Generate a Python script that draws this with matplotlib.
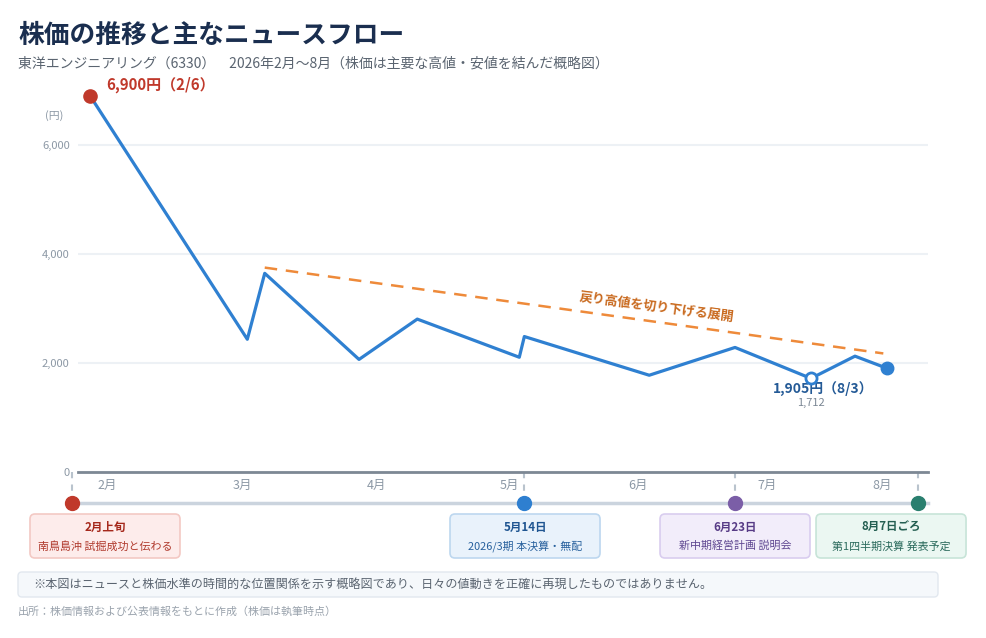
import matplotlib
matplotlib.use("Agg")
import matplotlib.pyplot as plt
from matplotlib import transforms
from matplotlib.patches import FancyBboxPatch

plt.rcParams['font.family'] = ['Noto Sans CJK JP', 'DejaVu Sans']

# 株価（概略図）: 横軸は月単位の位置（2.0 = 2月ラベルの位置）
price_x = [1.87, 3.053, 3.184, 3.893, 4.331, 5.098, 5.136, 6.075, 6.720, 7.291, 7.622, 7.860]
price_y = [6900, 2430, 3640, 2060, 2800, 2100, 2480, 1770, 2280, 1712, 2120, 1900]

trend_x = [3.184, 7.835]
trend_y = [3745, 2170]

month_pos = [2.0, 3.013, 4.028, 5.02, 5.99, 6.96, 7.825]
month_labels = ["2月", "3月", "4月", "5月", "6月", "7月", "8月"]

yticks = [0, 2000, 4000, 6000]
ytick_labels = ["0", "2,000", "4,000", "6,000"]

ev_x = [1.735, 5.133, 6.720, 8.096]
ev_box_x = [1.983, 5.141, 6.720, 7.893]
ev_title = ["2月上旬", "5月14日", "6月23日", "8月7日ごろ"]
ev_text = ["南鳥島沖 試掘成功と伝わる", "2026/3期 本決算・無配", "新中期経営計画 説明会", "第1四半期決算 発表予定"]
ev_dot = ["#c0392b", "#2e7fd0", "#7b5ea7", "#2a7f6f"]
ev_face = ["#fdeceb", "#e9f2fb", "#f2edfa", "#ebf7f2"]
ev_edge = ["#f3c9c4", "#bdd7ef", "#d9cdef", "#c7e4d8"]
ev_tcol = ["#a5281b", "#1f5591", "#573b86", "#245f52"]
ev_scol = ["#b0392c", "#27609d", "#5f4791", "#2b6a5c"]

W, H = 987, 638
fig = plt.figure(figsize=(W / 100, H / 100), dpi=100)

# plot area: x 78..928 px, y 80..471.7 px
ax = fig.add_axes([78 / W, 1 - 471.7 / H, 850 / W, (471.7 - 80) / H])
xmax = 1.78 + 850 / 133
ax.set_xlim(1.78, xmax)
ax.set_ylim(0, (471.7 - 80) / 54.5 * 1000)

for s in ["top", "right", "left"]:
    ax.spines[s].set_visible(False)
ax.spines["bottom"].set_color("#7d8894")
ax.spines["bottom"].set_linewidth(2)

ax.set_yticks(yticks, ytick_labels)
ax.yaxis.grid(True, color="#edf1f5", lw=1.5)
ax.set_axisbelow(True)
ax.tick_params(axis="y", length=0, pad=6, labelcolor="#8c98a5", labelsize=8)
ax.set_xticks(month_pos, month_labels)
ax.tick_params(axis="x", length=0, pad=5, labelcolor="#8c98a5", labelsize=9)

fig.text(54 / W, 1 - 115.7 / H, "(円)", ha="center", va="center", fontsize=7.8, color="#8c98a5")

# 株価ライン
ax.plot(price_x, price_y, color="#2f80d1", lw=2.3, zorder=3)
ax.plot(price_x[0], price_y[0], "o", ms=9.5, color="#c0392b", zorder=4, clip_on=False)
ax.plot(price_x[9], price_y[9], "o", ms=8, mfc="white", mec="#2f80d1", mew=2, zorder=4)
ax.plot(price_x[-1], price_y[-1], "o", ms=9, color="#2f80d1", zorder=4)

ax.annotate("6,900円（2/6）", (price_x[0], price_y[0]), xytext=(16, 11), textcoords="offset pixels",
            ha="left", va="center", color="#c0392b", fontsize=10.8, fontweight="bold", annotation_clip=False)
ax.annotate("1,905円（8/3）", (price_x[9], price_y[9]), xytext=(12, -11), textcoords="offset pixels",
            ha="center", va="center", color="#245a96", fontsize=10, fontweight="bold")
ax.annotate("1,712", (price_x[9], price_y[9]), xytext=(0, -25), textcoords="offset pixels",
            ha="center", va="center", color="#7b8794", fontsize=8)

# 戻り高値のトレンド
ax.plot(trend_x, trend_y, color="#ee8a3a", lw=1.8, dashes=(5, 3.5), zorder=2)
ax.text(1.78 + (657 - 78) / 133, (471.7 - 307) / 54.5 * 1000, "戻り高値を切り下げる展開",
        rotation=-7.5, rotation_mode="anchor", ha="center", va="center",
        color="#c96a1f", fontsize=9.4, fontweight="bold")

# タイムライン
trans = transforms.blended_transform_factory(ax.transData, fig.transFigure)
ty = 1 - 503 / H
ax.plot([ev_x[0], xmax], [ty, ty], transform=trans, clip_on=False, color="#cbd4de", lw=2.5, zorder=1)
for x, c in zip(ev_x, ev_dot):
    ax.plot([x, x], [1 - 472 / H, 1 - 498 / H], transform=trans, clip_on=False,
            color="#b9c3cd", lw=1.5, dashes=(3, 3), zorder=1)
    ax.plot(x, ty, "o", ms=10, color=c, transform=trans, clip_on=False, zorder=5)

fig.canvas.draw()
for bx, t1, t2, fc, ec, tc, sc in zip(ev_box_x, ev_title, ev_text, ev_face, ev_edge, ev_tcol, ev_scol):
    cx = ax.transData.transform((bx, 0))[0]
    box = FancyBboxPatch(((cx - 75) / 100, (H - 558) / 100), 1.5, 0.44,
                         boxstyle="round,pad=0,rounding_size=0.05",
                         transform=fig.dpi_scale_trans, fc=fc, ec=ec, lw=1.2)
    fig.add_artist(box)
    fig.text(cx / W, 1 - 527 / H, t1, ha="center", va="center", fontsize=8.3, fontweight="bold", color=tc)
    fig.text(cx / W, 1 - 546 / H, t2, ha="center", va="center", fontsize=7.9, color=sc)

# 注記
note = FancyBboxPatch((0.18, (H - 597) / 100), 9.2, 0.25, boxstyle="round,pad=0,rounding_size=0.04",
                      transform=fig.dpi_scale_trans, fc="#f5f8fb", ec="#e2e8ef", lw=1)
fig.add_artist(note)
fig.text(33 / W, 1 - 584.5 / H,
         "※本図はニュースと株価水準の時間的な位置関係を示す概略図であり、日々の値動きを正確に再現したものではありません。",
         ha="left", va="center", fontsize=8.7, color="#5a6470")
fig.text(18 / W, 1 - 611 / H, "出所：株価情報および公表情報をもとに作成（株価は執筆時点）",
         ha="left", va="center", fontsize=7.9, color="#9aa3ad")

fig.text(18 / W, 1 - 35 / H, "株価の推移と主なニュースフロー", ha="left", va="center",
         fontsize=18.5, fontweight="bold", color="#1a2e4f")
fig.text(18 / W, 1 - 64 / H, "東洋エンジニアリング（6330）　2026年2月〜8月（株価は主要な高値・安値を結んだ概略図）",
         ha="left", va="center", fontsize=10, color="#5a6470")

fig.savefig("out.png", dpi=100)
